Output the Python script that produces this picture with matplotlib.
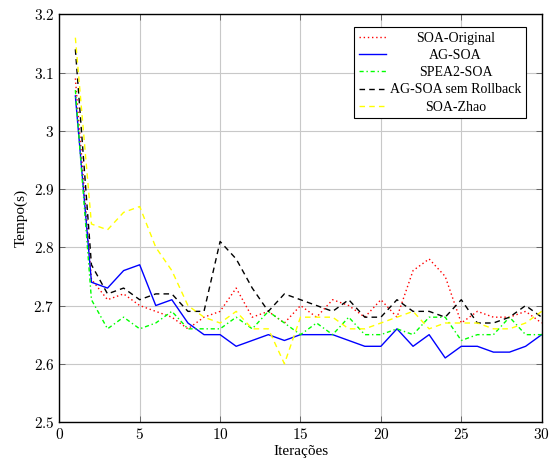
import matplotlib
matplotlib.use('Agg')
import matplotlib.pyplot as plt
from matplotlib.ticker import FuncFormatter, MultipleLocator

plt.rcParams['font.family'] = ['Liberation Serif', 'DejaVu Serif']
plt.rcParams['mathtext.fontset'] = 'cm'

iteracoes = list(range(1, 31))

soa_original = [3.09, 2.745, 2.71, 2.72, 2.70, 2.69, 2.68, 2.66, 2.68, 2.69,
                2.73, 2.68, 2.69, 2.67, 2.70, 2.68, 2.71, 2.70, 2.68, 2.71,
                2.68, 2.76, 2.78, 2.75, 2.67, 2.69, 2.68, 2.68, 2.69, 2.67]
ag_soa = [3.06, 2.74, 2.73, 2.76, 2.77, 2.70, 2.71, 2.67, 2.65, 2.65,
          2.63, 2.64, 2.65, 2.64, 2.65, 2.65, 2.65, 2.64, 2.63, 2.63,
          2.66, 2.63, 2.65, 2.61, 2.63, 2.63, 2.62, 2.62, 2.63, 2.65]
spea2_soa = [3.07, 2.71, 2.66, 2.68, 2.66, 2.67, 2.69, 2.66, 2.66, 2.66,
             2.68, 2.66, 2.69, 2.67, 2.65, 2.67, 2.65, 2.68, 2.65, 2.65,
             2.66, 2.65, 2.68, 2.68, 2.64, 2.65, 2.65, 2.68, 2.65, 2.65]
ag_soa_sem_rollback = [3.14, 2.77, 2.72, 2.73, 2.71, 2.72, 2.72, 2.69, 2.69, 2.81,
                       2.78, 2.73, 2.69, 2.72, 2.71, 2.70, 2.69, 2.71, 2.68, 2.68,
                       2.71, 2.69, 2.69, 2.68, 2.71, 2.67, 2.67, 2.68, 2.70, 2.68]
soa_zhao = [3.16, 2.84, 2.83, 2.86, 2.87, 2.80, 2.76, 2.70, 2.68, 2.67,
            2.69, 2.66, 2.66, 2.60, 2.68, 2.68, 2.68, 2.66, 2.66, 2.67,
            2.68, 2.69, 2.66, 2.67, 2.67, 2.67, 2.66, 2.66, 2.67, 2.69]

fig = plt.figure(figsize=(5.51, 4.58), dpi=100)
ax = fig.add_axes([0.1076, 0.0786, 0.8755, 0.890])

ax.plot(iteracoes, soa_original, color='#ff0000', linestyle=(0, (1, 2)), linewidth=1, label='SOA-Original')
ax.plot(iteracoes, ag_soa, color='#0000ff', linestyle='-', linewidth=1, label='AG-SOA')
ax.plot(iteracoes, spea2_soa, color='#00ff00', linestyle=(0, (3, 2, 1, 2)), linewidth=1, label='SPEA2-SOA')
ax.plot(iteracoes, ag_soa_sem_rollback, color='black', linestyle=(0, (4, 3)), linewidth=1,
        label='AG-SOA sem Rollback')
ax.plot(iteracoes, soa_zhao, color='#ffff00', linestyle=(0, (4, 3)), linewidth=1, label='SOA-Zhao')

ax.set_xlim(0, 30)
ax.set_ylim(2.5, 3.2)
ax.xaxis.set_major_locator(MultipleLocator(5))
ax.yaxis.set_major_locator(MultipleLocator(0.1))
ax.xaxis.set_major_formatter(FuncFormatter(lambda v, p: f'${v:g}$'))
ax.yaxis.set_major_formatter(FuncFormatter(lambda v, p: f'${round(v, 1):g}$'))
ax.tick_params(direction='in', top=True, right=True, length=4, width=0.6, labelsize=11, color='#555555')
ax.grid(color='#c8c8c8', linewidth=0.8)
for s in ax.spines.values():
    s.set_linewidth(1.0)

ax.set_xlabel('Iterações', fontsize=11, labelpad=2)
ax.set_ylabel('Tempo(s)', fontsize=11, labelpad=4)

leg = ax.legend(loc='upper right', bbox_to_anchor=(0.9675, 0.969), fontsize=10, frameon=True, fancybox=False,
                edgecolor='black', framealpha=1, handlelength=1.95, handletextpad=0.25,
                labelspacing=0.3, borderpad=0.35, borderaxespad=0)
leg.get_frame().set_linewidth(0.8)

# center the legend texts like pgfplots does
fig.canvas.draw()
renderer = fig.canvas.get_renderer()
widths = [t.get_window_extent(renderer).width for t in leg.get_texts()]
longest = max(widths)
for t, w in zip(leg.get_texts(), widths):
    t.set_position(((longest - w) / 2, 0))

fig.savefig('out.png', dpi=100)
